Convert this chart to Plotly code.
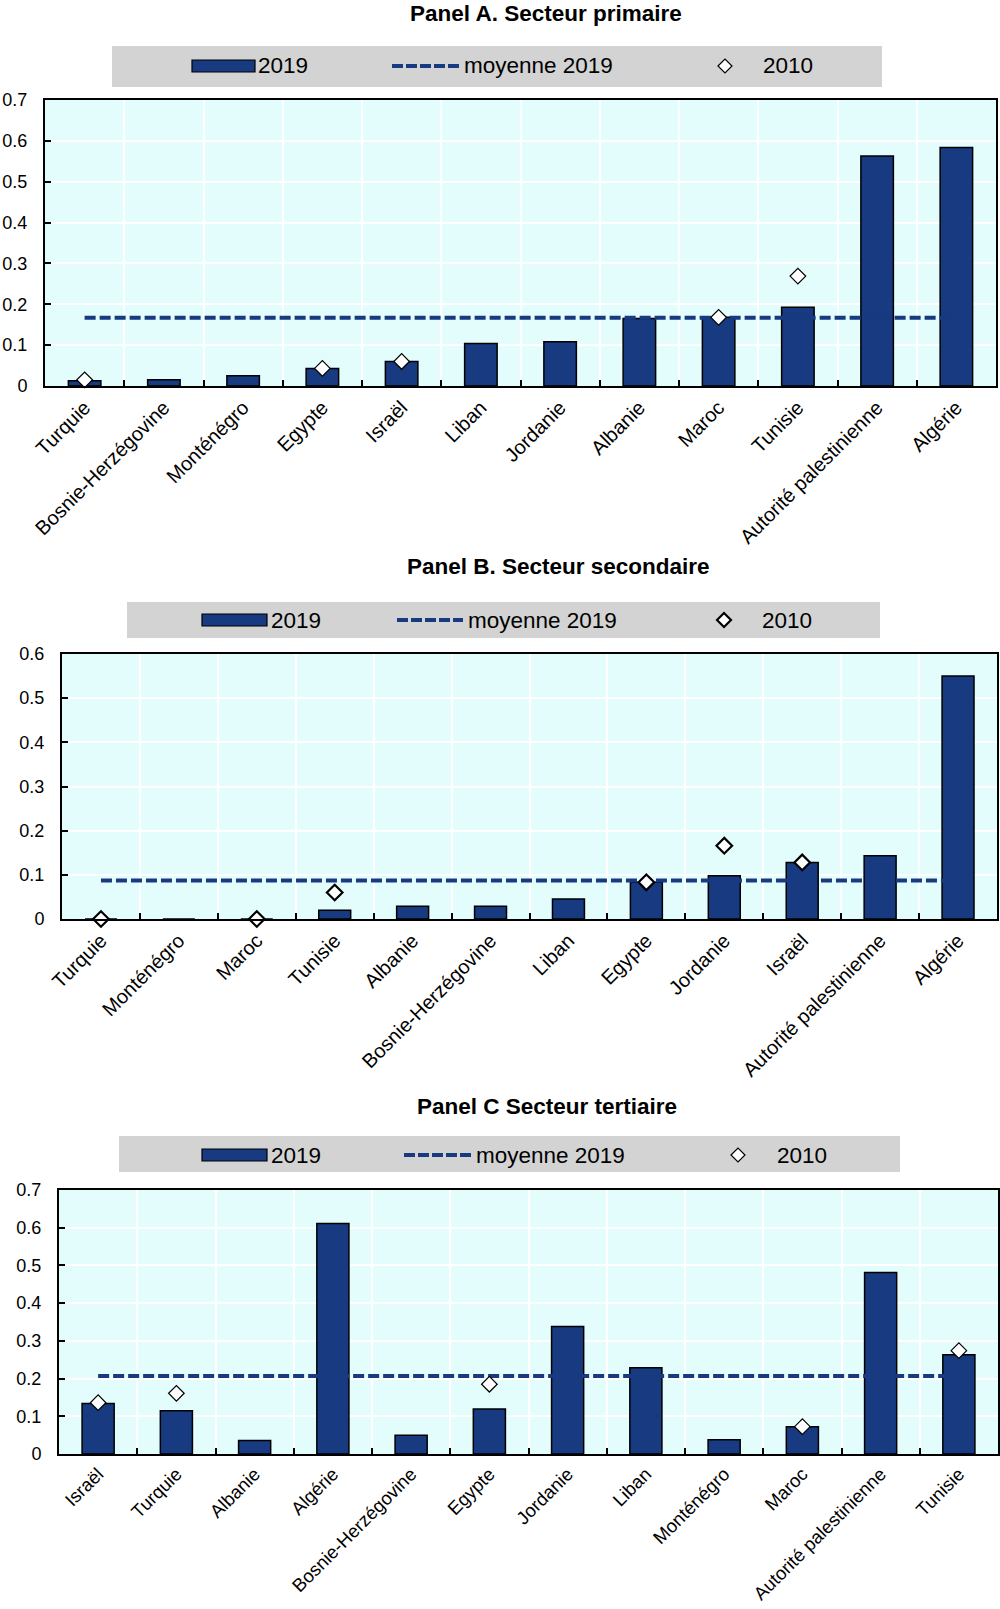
import plotly.graph_objects as go

W, H = 1000, 1609

# ---------------- data ----------------
cats_A = ["Turquie", "Bosnie-Herzégovine", "Monténégro", "Egypte", "Israël", "Liban",
          "Jordanie", "Albanie", "Maroc", "Tunisie", "Autorité palestinienne", "Algérie"]
v2019_A = [0.013, 0.015, 0.025, 0.043, 0.060, 0.104, 0.108, 0.165, 0.168, 0.193, 0.563, 0.584]
v2010_A = [0.015, None, None, 0.043, 0.060, None, None, None, 0.168, 0.269, None, None]
mean_A = 0.167

cats_B = ["Turquie", "Monténégro", "Maroc", "Tunisie", "Albanie", "Bosnie-Herzégovine",
          "Liban", "Egypte", "Jordanie", "Israël", "Autorité palestinienne", "Algérie"]
v2019_B = [0.0, 0.0, 0.0, 0.020, 0.029, 0.029, 0.045, 0.083, 0.098, 0.128, 0.143, 0.550]
v2010_B = [0.0, None, 0.0, 0.060, None, None, None, 0.083, 0.166, 0.128, None, None]
mean_B = 0.087

cats_C = ["Israël", "Turquie", "Albanie", "Algérie", "Bosnie-Herzégovine", "Egypte",
          "Jordanie", "Liban", "Monténégro", "Maroc", "Autorité palestinienne", "Tunisie"]
v2019_C = [0.134, 0.115, 0.036, 0.611, 0.050, 0.119, 0.338, 0.229, 0.038, 0.0725, 0.481, 0.263]
v2010_C = [0.136, 0.161, None, None, None, 0.185, None, None, None, 0.0725, None, 0.274]
mean_C = 0.207

titles = ["Panel A. Secteur primaire", "Panel B. Secteur secondaire", "Panel C Secteur tertiaire"]
legend_labels = ["2019", "moyenne 2019", "2010"]

# ---------------- style ----------------
FONT = "Liberation Sans, Arial, sans-serif"
BAR = "#173A80"
LINE = "#173A80"
BG = "#E3FCFC"
LEGBG = "#D3D3D3"


def px(x):
    return x / W


def py(y):
    return 1 - y / H


panels = [
    dict(cats=cats_A, v19=v2019_A, v10=v2010_A, mean=mean_A, ymax=0.7,
         dom=(45, 996, 100, 386), title_xy=(546, -1), mlw=1.2, xfs=20,
         leg=dict(box=(112, 882, 46, 87), cy=66, bar=(192, 255), t1=258,
                  dash=(392, 459), t2=464, dia=725, t3=763)),
    dict(cats=cats_B, v19=v2019_B, v10=v2010_B, mean=mean_B, ymax=0.6,
         dom=(62, 997, 654, 919), title_xy=(558, 552), mlw=2.2, xfs=20,
         leg=dict(box=(127, 880, 602, 638), cy=620, bar=(202, 267), t1=271,
                  dash=(397, 463), t2=468, dia=724, t3=762)),
    dict(cats=cats_C, v19=v2019_C, v10=v2010_C, mean=mean_C, ymax=0.7,
         dom=(59, 998, 1190, 1454), title_xy=(547, 1092), mlw=1.2, xfs=18.5,
         leg=dict(box=(119, 900, 1136, 1172), cy=1155, bar=(202, 267), t1=271,
                  dash=(404, 472), t2=476, dia=738, t3=777)),
]

fig = go.Figure()
shapes = []
annotations = []

for i, p in enumerate(panels, start=1):
    xa = "x" if i == 1 else f"x{i}"
    ya = "y" if i == 1 else f"y{i}"
    fig.add_trace(go.Bar(x=p["cats"], y=p["v19"], xaxis=xa, yaxis=ya,
                         marker=dict(color=BAR, line=dict(color="black", width=1.5)),
                         width=0.41, showlegend=False, hoverinfo="skip"))
    fig.add_trace(go.Scatter(x=p["cats"], y=[p["mean"]] * len(p["cats"]), xaxis=xa, yaxis=ya,
                             mode="lines", line=dict(color=LINE, width=4, dash="11px,4px"),
                             showlegend=False, hoverinfo="skip"))
    fig.add_trace(go.Scatter(x=p["cats"], y=p["v10"], xaxis=xa, yaxis=ya, mode="markers",
                             marker=dict(symbol="diamond", size=12, color="white",
                                         line=dict(color="black", width=p["mlw"])),
                             cliponaxis=False, showlegend=False, hoverinfo="skip"))

    x0, x1, y0, y1 = p["dom"]
    xkey = "xaxis" if i == 1 else f"xaxis{i}"
    ykey = "yaxis" if i == 1 else f"yaxis{i}"
    fig.update_layout(**{
        xkey: dict(domain=[px(x0), px(x1)], anchor=ya, type="category",
                   range=[-0.5, len(p["cats"]) - 0.5],
                   tickson="boundaries", ticks="inside", ticklen=6, tickwidth=2,
                   tickcolor="black", showgrid=True, gridcolor="white", gridwidth=1.5,
                   showline=True, linecolor="black", linewidth=2, mirror=True,
                   tickangle=-45, tickfont=dict(family=FONT, size=p["xfs"], color="black"),
                   automargin=False, fixedrange=True),
        ykey: dict(domain=[py(y1), py(y0)], anchor=xa, range=[0, p["ymax"]], dtick=0.1,
                   ticks="inside", ticklen=6, tickwidth=2, tickcolor="black",
                   showgrid=True, gridcolor="white", gridwidth=1.5, zeroline=False,
                   showline=True, linecolor="black", linewidth=2, mirror=True,
                   tickfont=dict(family=FONT, size=18, color="black"),
                   ticklabelstandoff=12, automargin=False, fixedrange=True),
    })

    # title
    tx, ty = p["title_xy"]
    annotations.append(dict(x=px(tx), y=py(ty), xref="paper", yref="paper",
                            text=f"<b>{titles[i - 1]}</b>", showarrow=False,
                            xanchor="center", yanchor="top",
                            font=dict(family=FONT, size=22.5, color="black")))

    # custom legend
    L = p["leg"]
    bx0, bx1, by0, by1 = L["box"]
    cy = L["cy"]
    shapes.append(dict(type="rect", xref="paper", yref="paper", x0=px(bx0), x1=px(bx1),
                       y0=py(by1), y1=py(by0), fillcolor=LEGBG, line=dict(width=0),
                       layer="below"))
    shapes.append(dict(type="rect", xref="paper", yref="paper", x0=px(L["bar"][0]),
                       x1=px(L["bar"][1]), y0=py(cy + 6), y1=py(cy - 6),
                       fillcolor=BAR, line=dict(color="black", width=1.2)))
    shapes.append(dict(type="line", xref="paper", yref="paper", x0=px(L["dash"][0]),
                       x1=px(L["dash"][1]), y0=py(cy), y1=py(cy),
                       line=dict(color=LINE, width=4, dash="11px,3px")))
    d = L["dia"]
    r = 7
    path = (f"M {px(d - r)} {py(cy)} L {px(d)} {py(cy - r)} L {px(d + r)} {py(cy)} "
            f"L {px(d)} {py(cy + r)} Z")
    shapes.append(dict(type="path", xref="paper", yref="paper", path=path,
                       fillcolor="white", line=dict(color="black", width=p["mlw"])))
    for tx_, lab in zip([L["t1"], L["t2"], L["t3"]], legend_labels):
        annotations.append(dict(x=px(tx_), y=py(cy), xref="paper", yref="paper",
                                text=lab, showarrow=False, xanchor="left",
                                yanchor="middle", xshift=-2,
                                font=dict(family=FONT, size=22.5, color="black")))

fig.update_layout(
    width=W, height=H,
    margin=dict(l=0, r=0, t=0, b=0),
    paper_bgcolor="white",
    plot_bgcolor=BG,
    shapes=shapes,
    annotations=annotations,
    showlegend=False,
    font=dict(family=FONT, color="black"),
)

fig.write_html("out.html", config={"displayModeBar": False},
               post_script="document.body.style.margin='0';document.body.style.overflow='hidden';")
